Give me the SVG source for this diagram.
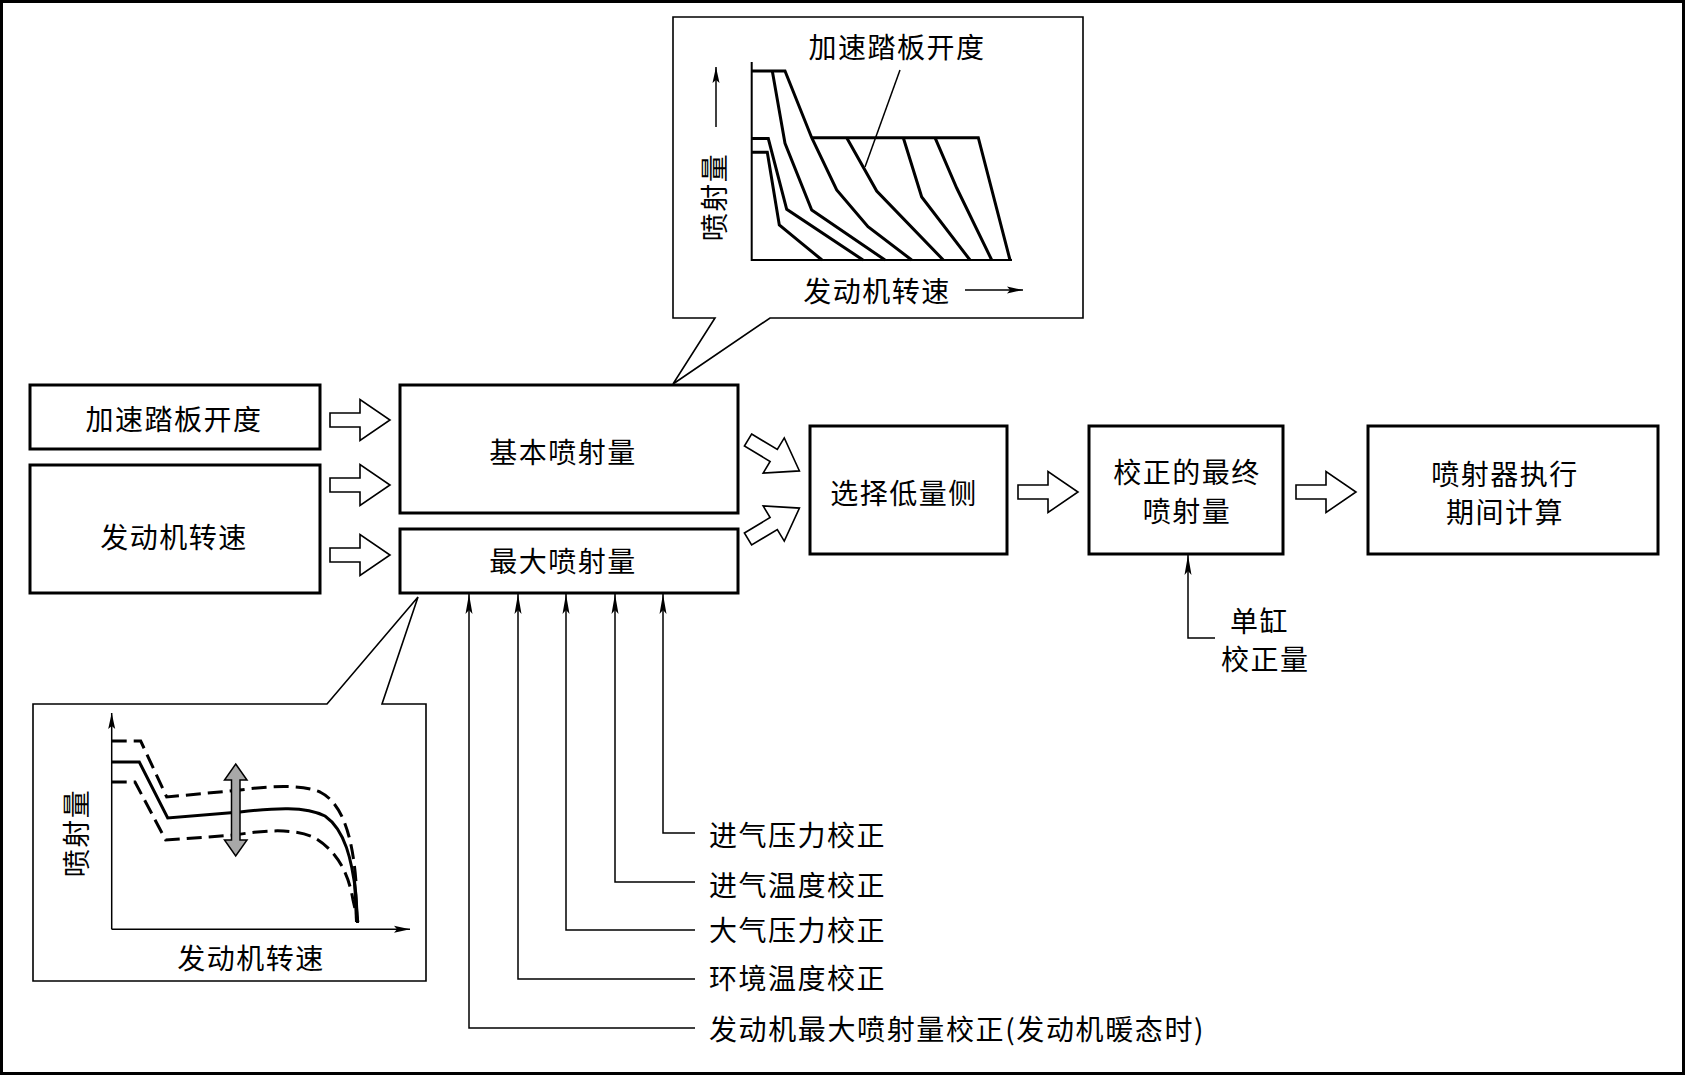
<svg xmlns="http://www.w3.org/2000/svg" xmlns:xlink="http://www.w3.org/1999/xlink" width="1686" height="1076" viewBox="0 0 1686 1076">
<style>
text{font-family:"Noto Sans CJK SC","Noto Sans CJK JP",sans-serif;font-size:28px;fill:#000;letter-spacing:1.5px;dominant-baseline:central}
.c{text-anchor:middle}
.box{fill:#fff;stroke:#000;stroke-width:3}
.call{fill:#fff;stroke:#000;stroke-width:1.6;stroke-linejoin:miter}
.ln{fill:none;stroke:#000;stroke-width:1.5}
.crv{fill:none;stroke:#000;stroke-width:3;stroke-linejoin:miter}
.ax{fill:none;stroke:#000;stroke-width:2}
.dash{fill:none;stroke:#000;stroke-width:3;stroke-dasharray:15 7}
.ba{fill:#fff;stroke:#000;stroke-width:1.6;stroke-linejoin:miter}
</style>
<defs>
<marker id="ah" viewBox="0 0 20 8" refX="20" refY="4" markerWidth="20" markerHeight="8" orient="auto" markerUnits="userSpaceOnUse"><path d="M0,0.5 L20,4 L0,7.5 L4,4 Z" fill="#000"/></marker>
<marker id="ah2" viewBox="0 0 16 8" refX="16" refY="4" markerWidth="16" markerHeight="8" orient="auto" markerUnits="userSpaceOnUse"><path d="M0,0.5 L16,4 L0,7.5 L3,4 Z" fill="#000"/></marker>
<path id="blk" d="M0,-7 H30 V-20.5 L60,0 L30,20.5 V7 H0 Z"/>
</defs>
<rect x="0" y="0" width="1686" height="1076" fill="#fff"/>
<rect x="1.5" y="1.5" width="1682" height="1072" fill="none" stroke="#000" stroke-width="3"/>

<g id="n_pedal"><rect class="box" x="30" y="385" width="290" height="64"/><text class="c" x="174" y="418">加速踏板开度</text></g>
<g id="n_speed"><rect class="box" x="30" y="465" width="290" height="128"/><text class="c" x="174" y="536">发动机转速</text></g>
<g id="n_basic"><rect class="box" x="400" y="385" width="338" height="128"/><text class="c" x="563" y="451">基本喷射量</text></g>
<g id="n_max"><rect class="box" x="400" y="529" width="338" height="64"/><text class="c" x="563" y="560">最大喷射量</text></g>
<g id="n_select"><rect class="box" x="810" y="426" width="197" height="128"/><text class="c" x="904" y="492">选择低量侧</text></g>
<g id="n_final"><rect class="box" x="1089" y="426" width="194" height="128"/><text class="c" x="1187" y="471">校正的最终</text><text class="c" x="1187" y="510">喷射量</text></g>
<g id="n_inj"><rect class="box" x="1368" y="426" width="290" height="128"/><text class="c" x="1505" y="473">喷射器执行</text><text class="c" x="1505" y="511">期间计算</text></g>

<g id="n_map_top">
<path class="call" d="M673,17 H1083 V318 H770 L673,384 L715,318 H673 Z"/>
<path class="ax" d="M751.7,62 V260 H1012"/>
<path class="crv" d="M751.7,71 H785 L811.7,137.7 L836.7,190 L868,226.7 L911.7,260"/>
<path class="crv" d="M772.3,71 L785,143.3 L811.7,210 L885,260"/>
<path class="crv" d="M811.7,137.7 H978.3 L1010,260"/>
<path class="crv" d="M846.7,137.7 L876.7,191 L943.3,260"/>
<path class="crv" d="M903.3,137.7 L921.7,197 L970,260"/>
<path class="crv" d="M935,137.7 L956.7,188 L991.7,260"/>
<path class="crv" d="M751.7,138.5 H768.3 L786.7,209.3 L863,260"/>
<path class="crv" d="M751.7,152.3 H767.3 L779.3,225 L801.7,243.3 L822,260"/>
<path class="ln" d="M900,70 L865,167"/>
<text class="c" x="897" y="46">加速踏板开度</text>
<text class="c" transform="translate(713,197) rotate(-90)" x="0" y="0">喷射量</text>
<path class="ln" d="M716,127 V67" marker-end="url(#ah2)"/>
<text class="c" x="877" y="290">发动机转速</text>
<path class="ln" d="M965,290 H1023" marker-end="url(#ah2)"/>
</g>

<g id="n_map_bottom">
<path class="call" d="M33,704 H327 L418,597 L382,704 H426 V981 H33 Z"/>
<path class="ln" d="M111.7,929.3 V713" marker-end="url(#ah2)"/>
<path class="ln" d="M111.7,929.3 H410" marker-end="url(#ah2)"/>
<path class="dash" d="M111.7,741 H140.7 L166.7,797 L240,790 C270,786 300,784 320,792 C340,802 352,830 356,882"/>
<path class="crv" d="M111.7,762 H139.3 L167.7,818 L240,812 C275,808 305,806 325,816 C345,830 352,860 356,895 L357.5,923"/>
<path class="dash" d="M111.7,782 H135 L165.7,840 L235,835 C265,830 295,828 315,838 C335,850 348,870 353,900 L358,922"/>
<path d="M353,878 L356,880 L359,922 L355,922 Z" fill="#000"/>
<path d="M235.7,764 L247,780 L240,780 L240,840 L247,840 L235.7,856 L224.5,840 L231.5,840 L231.5,780 L224.5,780 Z" fill="#a8a8a8" stroke="#000" stroke-width="1.5"/>
<text class="c" transform="translate(75,833) rotate(-90)" x="0" y="0">喷射量</text>
<text class="c" x="251" y="957">发动机转速</text>
</g>

<g id="n_labels">
<text x="709" y="834">进气压力校正</text>
<text x="709" y="884">进气温度校正</text>
<text x="709" y="929">大气压力校正</text>
<text x="709" y="977">环境温度校正</text>
<text x="709" y="1028" textLength="496" lengthAdjust="spacing">发动机最大喷射量校正(发动机暖态时)</text>
<text x="1230" y="620">单缸</text>
<text x="1221" y="658">校正量</text>
</g>

<g id="connectors">
<use href="#blk" class="ba" transform="translate(330,420)"/>
<use href="#blk" class="ba" transform="translate(330,485)"/>
<use href="#blk" class="ba" transform="translate(330,555)"/>
<use href="#blk" class="ba" transform="translate(748,440) rotate(31)"/>
<use href="#blk" class="ba" transform="translate(748,539) rotate(-31)"/>
<use href="#blk" class="ba" transform="translate(1018,492)"/>
<use href="#blk" class="ba" transform="translate(1296,492)"/>
<path class="ln" d="M695,833 H663 V594" marker-end="url(#ah)"/>
<path class="ln" d="M695,882 H615 V594" marker-end="url(#ah)"/>
<path class="ln" d="M695,930 H566 V594" marker-end="url(#ah)"/>
<path class="ln" d="M695,979 H518 V594" marker-end="url(#ah)"/>
<path class="ln" d="M695,1028 H469 V594" marker-end="url(#ah)"/>
<path class="ln" d="M1215,638 H1188 V555" marker-end="url(#ah)"/>
</g>
</svg>
